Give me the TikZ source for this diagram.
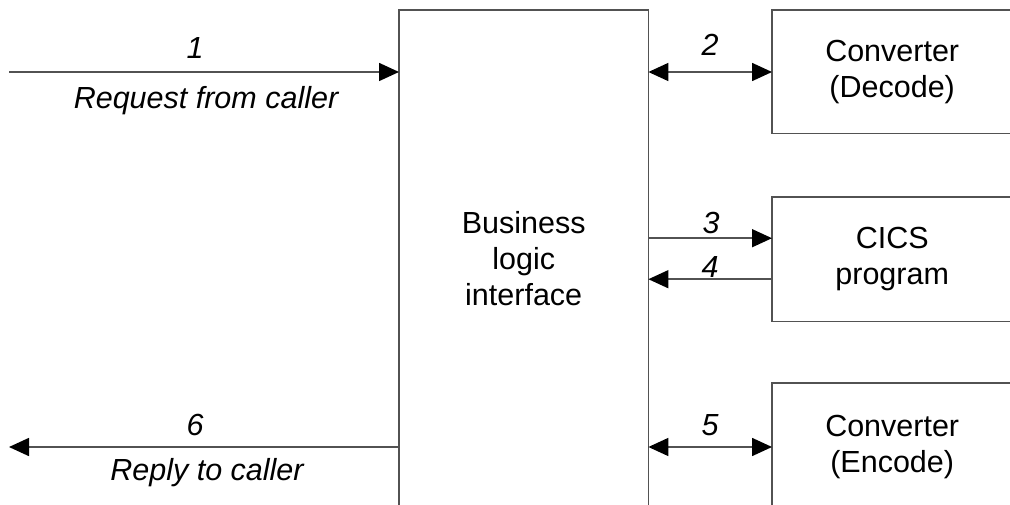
\documentclass[tikz,border=0pt]{standalone}
\usepackage{fontspec}
\setmainfont{Liberation Sans}
\usetikzlibrary{arrows.meta,calc}
\begin{document}
\begin{tikzpicture}[x=1pt,y=-1pt,
  font=\fontsize{30.5}{36}\selectfont,
  ln/.style={draw=black!68,line width=1.6pt},
  arr/.style={ln,-{Triangle[length=20pt,width=18pt,black]}},
  darr/.style={ln,{Triangle[length=20pt,width=18pt,black]}-{Triangle[length=20pt,width=18pt,black]}},
  boxnode/.style={rectangle,inner sep=0pt,anchor=north west,align=center},
  lab/.style={font=\fontsize{30.5}{36}\selectfont\itshape,inner sep=0pt}]
\useasboundingbox (0,0) rectangle (1010,505);
% nodes
\node[boxnode,minimum width=249pt,minimum height=496pt] (main) at (399,10) {Business\\logic\\interface};
\node[boxnode,minimum width=240pt,minimum height=123pt] (dec) at (772,10) {Converter\\(Decode)};
\node[boxnode,minimum width=240pt,minimum height=124pt] (cics) at (772,197) {CICS\\program};
\node[boxnode,minimum width=240pt,minimum height=128pt] (enc) at (772,383) {Converter\\(Encode)};
% outlines (open on the right / bottom)
\draw[ln] (main.south west) |- (main.north east) -- (main.south east);
\draw[ln] (dec.north east) -| (dec.south west) -- (dec.south east);
\draw[ln] (cics.north east) -| (cics.south west) -- (cics.south east);
\draw[ln] (enc.north east) -| (enc.south west);
% connectors
\coordinate (caller1) at (9,72);
\coordinate (caller6) at (9,447);
\draw[arr] (caller1) -- (caller1 -| main.west);
\draw[arr] (caller6 -| main.west) -- (caller6);
\draw[darr] (main.east |- 0,72) -- (dec.west |- 0,72);
\draw[arr] ([yshift=21pt]cics.west -| main.east) -- ([yshift=21pt]cics.west);
\draw[arr] ([yshift=-20pt]cics.west) -- ([yshift=-20pt]cics.west -| main.east);
\draw[darr] (main.east |- 0,447) -- (enc.west |- 0,447);
% labels
\node[lab] (l1) at (195,48) {1};
\node[lab] (lreq) at (206,101) {Request from caller};
\node[lab] (l2) at (710,45) {2};
\node[lab] (l3) at (711,223) {3};
\node[lab] (l4) at (710,267) {4};
\node[lab] (l5) at (710,425) {5};
\node[lab] (l6) at (195,425) {6};
\node[lab] (lrep) at (207,473) {Reply to caller};
\end{tikzpicture}
\end{document}
